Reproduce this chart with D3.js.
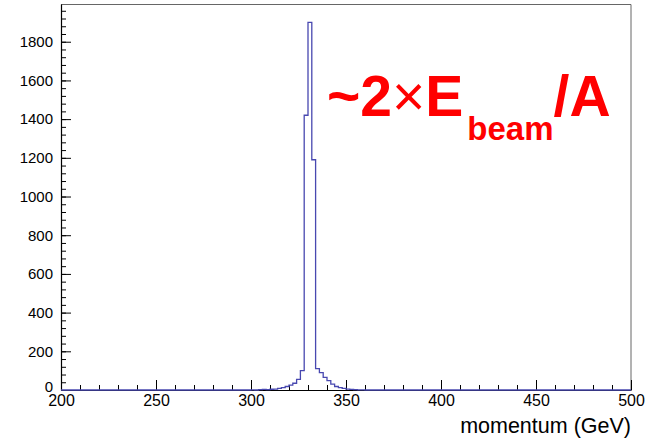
<!DOCTYPE html>
<html>
<head>
<meta charset="utf-8">
<script src="https://cdn.jsdelivr.net/npm/d3@7"></script>
<style>
  body { margin: 0; background: #fff; }
  text { font-family: "Liberation Sans", Arial, Helvetica, sans-serif; }
</style>
</head>
<body>
<script>
// histogram: 2 GeV bins, lower edges + entries (bins not listed are empty)
var binLow = [300, 302, 304, 306, 308, 310, 312, 314, 316, 318, 320, 322, 324, 326,
              328, 330, 332, 334, 336, 338, 340, 342, 344, 346, 348, 350, 352, 354, 356, 358];
var entries = [1, 0, 2, 3, 2, 4, 5, 8, 12, 18, 25, 35, 55, 100,
               1420, 1900, 1190, 110, 90, 65, 48, 30, 18, 12, 8, 5, 3, 2, 1, 1];
var binWidth = 2;
var xRange = [200, 500];
var yMax = 1995;
var xTicks = [200, 250, 300, 350, 400, 450, 500];
var yTicks = [0, 200, 400, 600, 800, 1000, 1200, 1400, 1600, 1800];

var svgWidth = 657;
var svgHeight = 444;

var margin = {top: 4, right: 26, bottom: 54, left: 61};
var width = svgWidth - margin.left - margin.right;
var height = svgHeight - margin.top - margin.bottom;

var svg = d3.select("body")
  .append("svg")
  .attr("width", svgWidth)
  .attr("height", svgHeight);

var g = svg.append("g")
  .attr("transform", "translate(" + margin.left + "," + margin.top + ")");

var x = d3.scaleLinear().domain(xRange).range([0, width]);
var y = d3.scaleLinear().domain([0, yMax]).range([height, 0]);

// frame top / right
g.append("path")
  .attr("d", "M0,0.5H" + width + "V" + height)
  .attr("fill", "none")
  .attr("stroke", "#666")
  .attr("stroke-width", 1);

// minor ticks
var xMinor = d3.range(xRange[0], xRange[1] + 1, 10);
var yMinor = d3.range(0, yMax, 40);

g.append("g")
  .attr("transform", "translate(0," + height + ")")
  .call(d3.axisBottom(x).tickValues(xMinor).tickSize(-5).tickFormat(""))
  .call(a => a.select(".domain").remove());

g.append("g")
  .call(d3.axisLeft(y).tickValues(yMinor).tickSize(-5).tickFormat(""))
  .call(a => a.select(".domain").remove());

// major ticks + labels
var xAxis = g.append("g")
  .attr("transform", "translate(0," + height + ")")
  .call(d3.axisBottom(x).tickValues(xTicks).tickSize(-10).tickPadding(5)
    .tickSizeOuter(0).tickFormat(d3.format("d")));
xAxis.selectAll("text").attr("font-size", 16).attr("fill", "#000");

var yAxis = g.append("g")
  .call(d3.axisLeft(y).tickValues(yTicks).tickSize(-10).tickPadding(8)
    .tickSizeOuter(0).tickFormat(d3.format("d")));
yAxis.selectAll("text").attr("font-size", 15).attr("fill", "#000");
// ROOT puts the "0" a bit low, against the x labels
yAxis.selectAll(".tick").filter(d => d === 0).select("text").attr("dy", "0.1em");

g.selectAll(".domain").attr("stroke", "#000").attr("stroke-width", 1.2);
g.selectAll(".tick line").attr("stroke", "#000");

// histogram outline
var pts = [[xRange[0], 0]];
binLow.forEach(function(lo, i) { pts.push([lo, entries[i]]); });
pts.push([binLow[binLow.length - 1] + binWidth, 0]);
pts.push([xRange[1], 0]);

var line = d3.line()
  .x(d => x(d[0]))
  .y(d => y(d[1]))
  .curve(d3.curveStepAfter);

g.append("path")
  .datum(pts)
  .attr("d", line)
  .attr("fill", "none")
  .attr("stroke", "#4848b0")
  .attr("stroke-width", 1.3);

// axis title
svg.append("text")
  .attr("x", margin.left + width)
  .attr("y", 433)
  .attr("text-anchor", "end")
  .attr("font-size", 21.5)
  .text("momentum (GeV)");

// annotation
var note = svg.append("text")
  .attr("x", 327)
  .attr("y", 116)
  .attr("fill", "#ff0000")
  .attr("font-weight", "bold")
  .attr("font-size", 57);
note.append("tspan").text("~2");
note.append("tspan").attr("font-weight", "normal").text("×");
note.append("tspan").text("E");
note.append("tspan").attr("dx", 4).attr("dy", 24).attr("font-size", 33).text("beam");
note.append("tspan").attr("dy", -24).text("/A");
</script>
</body>
</html>
